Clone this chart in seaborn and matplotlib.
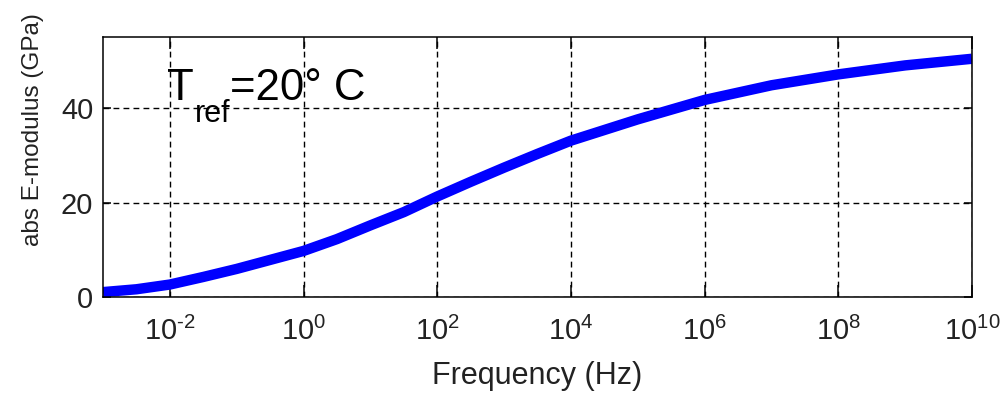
import matplotlib
matplotlib.use("Agg")
import matplotlib.pyplot as plt
import seaborn as sns
import pandas as pd
import numpy as np
from matplotlib.ticker import FixedLocator, FuncFormatter, NullLocator

# ---- data ----
freq_exponent = [-3, -2.5, -2, -1.5, -1, -0.5, 0, 0.5, 1, 1.5, 2, 2.5, 3, 3.5, 4,
                 5, 6, 7, 8, 9, 10]
modulus_gpa = [1.1, 1.7, 2.7, 4.3, 6.0, 7.9, 9.8, 12.3, 15.2, 18.0, 21.3, 24.4, 27.4,
               30.3, 33.1, 37.6, 41.7, 44.8, 47.1, 49.0, 50.4]
x_tick_exponents = [-2, 0, 2, 4, 6, 8, 10]
y_ticks = [0, 20, 40]
x_limits = [1e-3, 1e10]
y_limits = [0, 55]

sns.set_theme(style="white")
plt.rcParams['font.family'] = ['Liberation Sans', 'DejaVu Sans']
plt.rcParams['mathtext.fontset'] = 'custom'
plt.rcParams['mathtext.rm'] = 'Liberation Sans'
plt.rcParams['mathtext.it'] = 'Liberation Sans:italic'
plt.rcParams['mathtext.bf'] = 'Liberation Sans:bold'
plt.rcParams['mathtext.default'] = 'regular'
plt.rcParams['axes.unicode_minus'] = False

freq_hz = [10.0 ** e for e in freq_exponent]
x_ticks = [10.0 ** e for e in x_tick_exponents]
df = pd.DataFrame({"Frequency (Hz)": freq_hz, "abs E-modulus (GPa)": modulus_gpa})

fig = plt.figure(figsize=(10.01, 3.94), dpi=100)
fig.patch.set_facecolor('white')
ax = fig.add_axes([0.1029, 0.2454, 0.8681, 0.6607])
ax.set_xscale('log')

sns.lineplot(data=df, x="Frequency (Hz)", y="abs E-modulus (GPa)", ax=ax,
             color='#0000ff', linewidth=7.5, sort=False)
for ln in ax.get_lines():
    ln.set_solid_capstyle('butt')
    ln.set_solid_joinstyle('round')
    ln.set_clip_on(True)

ax.set_xlim(*x_limits)
ax.set_ylim(*y_limits)


def log_fmt(v, pos):
    e = int(round(np.log10(v)))
    if e < 0:
        return r'$\mathdefault{10^{\text{-}%d}}$' % (-e)
    return r'$\mathdefault{10^{%d}}$' % e


ax.xaxis.set_major_locator(FixedLocator(x_ticks))
ax.xaxis.set_minor_locator(NullLocator())
ax.xaxis.set_major_formatter(FuncFormatter(log_fmt))
ax.yaxis.set_major_locator(FixedLocator(y_ticks))

ax.grid(True, which='major', color='black', linestyle=(0, (4.2, 3.0)), linewidth=1.0)
ax.set_axisbelow(True)

for s in ax.spines.values():
    s.set_visible(True)
    s.set_color('black')
    s.set_linewidth(1.1)

ax.tick_params(axis='x', which='major', direction='in', length=8.5, width=1.1,
               color='black', labelsize=21, pad=14, top=True, bottom=True,
               labelcolor='#222222')
ax.tick_params(axis='y', which='major', direction='in', length=5.5, width=1.1,
               color='black', labelsize=21, pad=7, left=True, right=True,
               labelcolor='#222222')

ax.set_xlabel('Frequency (Hz)', fontsize=22, color='#222222', va='top')
ax.xaxis.set_label_coords(0.5, -0.245)
ax.set_ylabel('abs E-modulus (GPa)', fontsize=17.5, color='#222222')
ax.yaxis.set_label_coords(-0.068, 0.646)

# T_ref annotation
t1 = ax.text(0.074, 0.758, 'T', transform=ax.transAxes, fontsize=31.5,
             ha='left', va='baseline', color='black')
t2 = ax.annotate('ref', xy=(1, 0), xycoords=t1, xytext=(0.5, -9.2),
                 textcoords='offset points', fontsize=22, ha='left',
                 va='baseline', color='black')
t3 = ax.annotate('=20\u00b0 C', xy=(1, 0), xycoords=t2, xytext=(0, 20.4),
                 textcoords='offset points', fontsize=31.5, ha='left',
                 va='baseline', color='black')

fig.savefig('out.png', dpi=100, facecolor='white')
